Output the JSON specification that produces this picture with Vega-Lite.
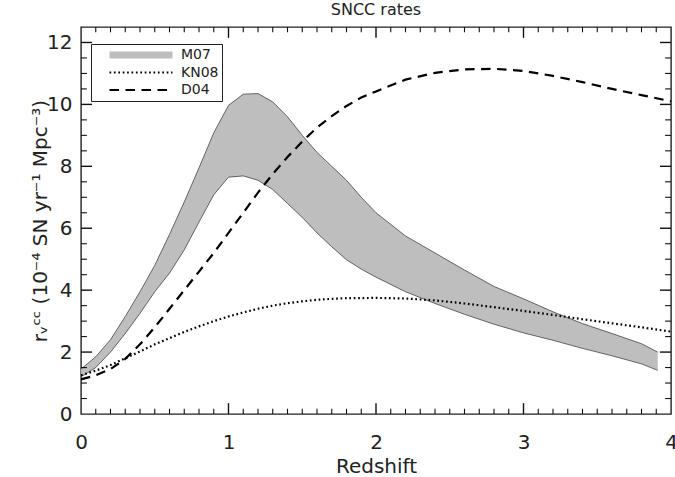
{
  "$schema": "https://vega.github.io/schema/vega-lite/v6.json",
  "width": 590,
  "height": 387,
  "autosize": {"type": "none"},
  "padding": {"left": 81, "top": 27, "right": 4, "bottom": 63},
  "background": "white",
  "config": {
    "view": {"stroke": "#222", "strokeWidth": 1.4},
    "font": "DejaVu Sans",
    "axis": {"domain": false, "ticks": false, "grid": false, "labelColor": "#222", "titleColor": "#222", "labelFont": "DejaVu Sans", "titleFont": "DejaVu Sans", "titleFontWeight": "normal", "labelFlush": false, "labelOverlap": false}
  },
  "title": {"text": "SNCC rates", "fontSize": 16, "fontWeight": "normal", "font": "DejaVu Sans", "color": "#222", "offset": 8, "anchor": "middle"},
  "datasets": {
    "xmajor": [{"v": 1}, {"v": 2}, {"v": 3}],
    "xminor": [{"v": 0.1}, {"v": 0.2}, {"v": 0.3}, {"v": 0.4}, {"v": 0.5}, {"v": 0.6}, {"v": 0.7}, {"v": 0.8}, {"v": 0.9},
      {"v": 1.1}, {"v": 1.2}, {"v": 1.3}, {"v": 1.4}, {"v": 1.5}, {"v": 1.6}, {"v": 1.7}, {"v": 1.8}, {"v": 1.9},
      {"v": 2.1}, {"v": 2.2}, {"v": 2.3}, {"v": 2.4}, {"v": 2.5}, {"v": 2.6}, {"v": 2.7}, {"v": 2.8}, {"v": 2.9},
      {"v": 3.1}, {"v": 3.2}, {"v": 3.3}, {"v": 3.4}, {"v": 3.5}, {"v": 3.6}, {"v": 3.7}, {"v": 3.8}, {"v": 3.9}],
    "ymajor": [{"v": 2}, {"v": 4}, {"v": 6}, {"v": 8}, {"v": 10}, {"v": 12}],
    "yminor": [{"v": 0.5}, {"v": 1}, {"v": 1.5}, {"v": 2.5}, {"v": 3}, {"v": 3.5}, {"v": 4.5}, {"v": 5}, {"v": 5.5},
      {"v": 6.5}, {"v": 7}, {"v": 7.5}, {"v": 8.5}, {"v": 9}, {"v": 9.5}, {"v": 10.5}, {"v": 11}, {"v": 11.5}],
    "band": [
      {"z": 0, "lo": 1.2, "hi": 1.45},
      {"z": 0.1, "lo": 1.5, "hi": 1.85},
      {"z": 0.2, "lo": 2.0, "hi": 2.4},
      {"z": 0.3, "lo": 2.6, "hi": 3.15},
      {"z": 0.4, "lo": 3.25, "hi": 3.95},
      {"z": 0.5, "lo": 3.95, "hi": 4.8},
      {"z": 0.6, "lo": 4.55, "hi": 5.8},
      {"z": 0.7, "lo": 5.3, "hi": 6.85},
      {"z": 0.8, "lo": 6.2, "hi": 7.95},
      {"z": 0.9, "lo": 7.08, "hi": 9.08},
      {"z": 1.0, "lo": 7.65, "hi": 9.97},
      {"z": 1.1, "lo": 7.69, "hi": 10.33},
      {"z": 1.2, "lo": 7.55, "hi": 10.35},
      {"z": 1.3, "lo": 7.25, "hi": 10.08},
      {"z": 1.4, "lo": 6.8, "hi": 9.6},
      {"z": 1.5, "lo": 6.35, "hi": 9.0},
      {"z": 1.6, "lo": 5.85, "hi": 8.45},
      {"z": 1.7, "lo": 5.4, "hi": 8.0},
      {"z": 1.8, "lo": 4.98, "hi": 7.55},
      {"z": 1.9, "lo": 4.68, "hi": 7.0},
      {"z": 2.0, "lo": 4.42, "hi": 6.5},
      {"z": 2.2, "lo": 3.95, "hi": 5.75},
      {"z": 2.4, "lo": 3.57, "hi": 5.2},
      {"z": 2.6, "lo": 3.22, "hi": 4.65},
      {"z": 2.8, "lo": 2.9, "hi": 4.12},
      {"z": 3.0, "lo": 2.62, "hi": 3.72},
      {"z": 3.2, "lo": 2.38, "hi": 3.3},
      {"z": 3.4, "lo": 2.12, "hi": 2.92},
      {"z": 3.6, "lo": 1.88, "hi": 2.6},
      {"z": 3.8, "lo": 1.62, "hi": 2.27},
      {"z": 3.91, "lo": 1.41, "hi": 2.0}
    ],
    "lines": [
      {"series": "KN08", "z": 0, "y": 1.25},
      {"series": "KN08", "z": 0.1, "y": 1.4},
      {"series": "KN08", "z": 0.2, "y": 1.58},
      {"series": "KN08", "z": 0.3, "y": 1.8},
      {"series": "KN08", "z": 0.4, "y": 2.02},
      {"series": "KN08", "z": 0.5, "y": 2.25},
      {"series": "KN08", "z": 0.6, "y": 2.45},
      {"series": "KN08", "z": 0.7, "y": 2.65},
      {"series": "KN08", "z": 0.8, "y": 2.83},
      {"series": "KN08", "z": 0.9, "y": 3.0},
      {"series": "KN08", "z": 1.0, "y": 3.15},
      {"series": "KN08", "z": 1.1, "y": 3.28},
      {"series": "KN08", "z": 1.2, "y": 3.4},
      {"series": "KN08", "z": 1.3, "y": 3.5},
      {"series": "KN08", "z": 1.4, "y": 3.58},
      {"series": "KN08", "z": 1.5, "y": 3.64},
      {"series": "KN08", "z": 1.6, "y": 3.69},
      {"series": "KN08", "z": 1.7, "y": 3.72},
      {"series": "KN08", "z": 1.8, "y": 3.74},
      {"series": "KN08", "z": 2.0, "y": 3.75},
      {"series": "KN08", "z": 2.2, "y": 3.73},
      {"series": "KN08", "z": 2.4, "y": 3.67},
      {"series": "KN08", "z": 2.6, "y": 3.57},
      {"series": "KN08", "z": 2.8, "y": 3.45},
      {"series": "KN08", "z": 3.0, "y": 3.33},
      {"series": "KN08", "z": 3.2, "y": 3.2},
      {"series": "KN08", "z": 3.4, "y": 3.06},
      {"series": "KN08", "z": 3.6, "y": 2.93},
      {"series": "KN08", "z": 3.8, "y": 2.8},
      {"series": "KN08", "z": 4.0, "y": 2.66},
      {"series": "D04", "z": 0, "y": 1.12},
      {"series": "D04", "z": 0.1, "y": 1.25},
      {"series": "D04", "z": 0.2, "y": 1.45},
      {"series": "D04", "z": 0.3, "y": 1.78},
      {"series": "D04", "z": 0.4, "y": 2.25},
      {"series": "D04", "z": 0.5, "y": 2.8},
      {"series": "D04", "z": 0.6, "y": 3.4},
      {"series": "D04", "z": 0.7, "y": 4.0},
      {"series": "D04", "z": 0.8, "y": 4.6},
      {"series": "D04", "z": 0.9, "y": 5.2},
      {"series": "D04", "z": 1.0, "y": 5.85},
      {"series": "D04", "z": 1.1, "y": 6.5},
      {"series": "D04", "z": 1.2, "y": 7.15},
      {"series": "D04", "z": 1.3, "y": 7.75},
      {"series": "D04", "z": 1.4, "y": 8.3},
      {"series": "D04", "z": 1.5, "y": 8.8},
      {"series": "D04", "z": 1.6, "y": 9.25},
      {"series": "D04", "z": 1.7, "y": 9.62},
      {"series": "D04", "z": 1.8, "y": 9.95},
      {"series": "D04", "z": 1.9, "y": 10.22},
      {"series": "D04", "z": 2.0, "y": 10.42},
      {"series": "D04", "z": 2.2, "y": 10.8},
      {"series": "D04", "z": 2.4, "y": 11.02},
      {"series": "D04", "z": 2.6, "y": 11.13},
      {"series": "D04", "z": 2.8, "y": 11.15},
      {"series": "D04", "z": 3.0, "y": 11.08},
      {"series": "D04", "z": 3.2, "y": 10.92},
      {"series": "D04", "z": 3.4, "y": 10.72},
      {"series": "D04", "z": 3.6, "y": 10.5},
      {"series": "D04", "z": 3.8, "y": 10.3},
      {"series": "D04", "z": 4.0, "y": 10.1}
    ]
  },
  "layer": [
    {
      "data": {"name": "band"},
      "mark": {"type": "area", "color": "#bebebe", "opacity": 1},
      "encoding": {
        "x": {"field": "z", "type": "quantitative", "scale": {"domain": [0, 4], "nice": false, "zero": false},
          "axis": {"orient": "bottom", "values": [0, 1, 2, 3, 4], "labelFontSize": 20, "labelPadding": 18, "title": "Redshift", "titleFontSize": 20, "titlePadding": 4}},
        "y": {"field": "lo", "type": "quantitative", "scale": {"domain": [0, 12.5], "nice": false, "zero": false},
          "axis": {"orient": "left", "values": [0, 2, 4, 6, 8, 10, 12], "labelFontSize": 20, "labelPadding": 9, "title": "rᵥᶜᶜ  (10⁻⁴ SN yr⁻¹ Mpc⁻³)", "titleFontSize": 20, "titlePadding": -4}},
        "y2": {"field": "hi"}
      }
    },
    {
      "data": {"name": "band"},
      "mark": {"type": "line", "color": "#444", "strokeWidth": 0.8},
      "encoding": {
        "x": {"field": "z", "type": "quantitative", "axis": null},
        "y": {"field": "hi", "type": "quantitative", "axis": null}
      }
    },
    {
      "data": {"name": "band"},
      "mark": {"type": "line", "color": "#444", "strokeWidth": 0.8},
      "encoding": {
        "x": {"field": "z", "type": "quantitative", "axis": null},
        "y": {"field": "lo", "type": "quantitative", "axis": null}
      }
    },
    {
      "data": {"name": "xmajor"},
      "mark": {"type": "rule", "color": "#111", "strokeWidth": 1.4},
      "encoding": {"x": {"field": "v", "type": "quantitative", "axis": null}, "y": {"datum": 0, "type": "quantitative", "axis": null}, "y2": {"datum": 0.35}}
    },
    {
      "data": {"name": "xmajor"},
      "mark": {"type": "rule", "color": "#111", "strokeWidth": 1.4},
      "encoding": {"x": {"field": "v", "type": "quantitative", "axis": null}, "y": {"datum": 12.5, "type": "quantitative", "axis": null}, "y2": {"datum": 12.15}}
    },
    {
      "data": {"name": "xminor"},
      "mark": {"type": "rule", "color": "#111", "strokeWidth": 1.1},
      "encoding": {"x": {"field": "v", "type": "quantitative", "axis": null}, "y": {"datum": 0, "type": "quantitative", "axis": null}, "y2": {"datum": 0.17}}
    },
    {
      "data": {"name": "xminor"},
      "mark": {"type": "rule", "color": "#111", "strokeWidth": 1.1},
      "encoding": {"x": {"field": "v", "type": "quantitative", "axis": null}, "y": {"datum": 12.5, "type": "quantitative", "axis": null}, "y2": {"datum": 12.33}}
    },
    {
      "data": {"name": "ymajor"},
      "mark": {"type": "rule", "color": "#111", "strokeWidth": 1.4},
      "encoding": {"y": {"field": "v", "type": "quantitative", "axis": null}, "x": {"datum": 0, "type": "quantitative", "axis": null}, "x2": {"datum": 0.075}}
    },
    {
      "data": {"name": "ymajor"},
      "mark": {"type": "rule", "color": "#111", "strokeWidth": 1.4},
      "encoding": {"y": {"field": "v", "type": "quantitative", "axis": null}, "x": {"datum": 4, "type": "quantitative", "axis": null}, "x2": {"datum": 3.925}}
    },
    {
      "data": {"name": "yminor"},
      "mark": {"type": "rule", "color": "#111", "strokeWidth": 1.1},
      "encoding": {"y": {"field": "v", "type": "quantitative", "axis": null}, "x": {"datum": 0, "type": "quantitative", "axis": null}, "x2": {"datum": 0.04}}
    },
    {
      "data": {"name": "yminor"},
      "mark": {"type": "rule", "color": "#111", "strokeWidth": 1.1},
      "encoding": {"y": {"field": "v", "type": "quantitative", "axis": null}, "x": {"datum": 4, "type": "quantitative", "axis": null}, "x2": {"datum": 3.96}}
    },
    {
      "data": {"name": "lines"},
      "mark": {"type": "line", "strokeWidth": 2.2},
      "encoding": {
        "x": {"field": "z", "type": "quantitative", "axis": null},
        "y": {"field": "y", "type": "quantitative", "axis": null},
        "color": {"field": "series", "type": "nominal",
          "scale": {"domain": ["M07", "KN08", "D04"], "range": ["#bebebe", "#000000", "#000000"]},
          "legend": {"orient": "none", "legendX": 10, "legendY": 17, "title": null, "strokeColor": "#222", "fillColor": "white", "padding": 3, "symbolType": "stroke", "symbolSize": 3969, "clipHeight": 16, "rowPadding": 1.5, "symbolOffset": 40, "labelOffset": 33, "labelFontSize": 14, "labelFont": "DejaVu Sans", "labelColor": "#222", "symbolStrokeWidth": 2,
            "encode": {"symbols": {"update": {"strokeWidth": {"signal": "datum.value === 'M07' ? 7 : 2"}}}}}},
        "strokeDash": {"field": "series", "type": "nominal",
          "scale": {"domain": ["M07", "KN08", "D04"], "range": [[1, 0], [1.7, 2.7], [9.5, 6.5]]},
          "legend": {"orient": "none", "legendX": 10, "legendY": 17, "title": null, "strokeColor": "#222", "fillColor": "white", "padding": 3, "symbolType": "stroke", "symbolSize": 3969, "clipHeight": 16, "rowPadding": 1.5, "symbolOffset": 40, "labelOffset": 33, "labelFontSize": 14, "labelFont": "DejaVu Sans", "labelColor": "#222", "symbolStrokeWidth": 2,
            "encode": {"symbols": {"update": {"strokeWidth": {"signal": "datum.value === 'M07' ? 7 : 2"}}}}}}
      }
    }
  ],
  "resolve": {"axis": {"x": "independent", "y": "independent"}}
}
